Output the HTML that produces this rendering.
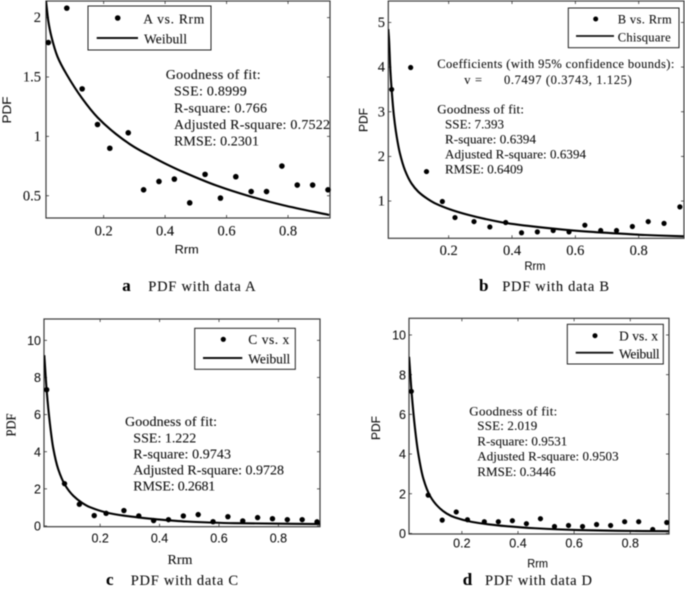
<!DOCTYPE html>
<html>
<head>
<meta charset="utf-8">
<title>PDF fits for data A, B, C and D</title>
<style>
html,body{margin:0;padding:0;background:#fff;width:685px;height:591px;overflow:hidden}
svg{display:block;filter:blur(0.4px)}
text{fill:#111;font-family:"Liberation Serif",serif;font-size:13.5px;stroke:#111;stroke-width:0.1px}
.stat{font-size:14px}
.leg{font-size:13.5px}
.sans{font-family:"Liberation Sans",sans-serif;font-size:12px}
.cap{font-size:14.5px}
.capb{font-size:17px;font-weight:bold;fill:#000}
</style>
</head>
<body>
<svg id="figure" width="685" height="591" viewBox="0 0 685 591" xmlns="http://www.w3.org/2000/svg">
<g id="panel-a"></g>
<g id="panel-b"></g>
<g id="panel-c"></g>
<g id="panel-d"></g>

<g>
<rect x="88" y="6" width="123" height="44" fill="#fff" stroke="#222" stroke-width="1"/>
<circle cx="117.7" cy="18" r="2.8" fill="#000"/>
<line x1="96.7" x2="138" y1="38" y2="38" stroke="#111" stroke-width="2"/>
<text class="leg" x="143.3" y="23.5" textLength="61" lengthAdjust="spacing">A vs. Rrm</text>
<text class="leg" x="144" y="43.5" textLength="43" lengthAdjust="spacing">Weibull</text>
</g>
<g>
<text class="stat" x="165.7" y="79" textLength="95" lengthAdjust="spacing">Goodness of fit:</text>
<text class="stat" x="174" y="95.7" textLength="72.7" lengthAdjust="spacing">SSE: 0.8999</text>
<text class="stat" x="174" y="112.4" textLength="93" lengthAdjust="spacing">R-square: 0.766</text>
<text class="stat" x="174" y="129" textLength="156" lengthAdjust="spacing">Adjusted R-square: 0.7522</text>
<text class="stat" x="174" y="145.7" textLength="85" lengthAdjust="spacing">RMSE: 0.2301</text>
</g>
<text class="sans" x="174.7" y="253.3" textLength="24" lengthAdjust="spacingAndGlyphs">Rrm</text>
<text class="sans" transform="translate(11,123.5) rotate(-90)" textLength="27" lengthAdjust="spacingAndGlyphs">PDF</text>
<text class="capb" x="122.3" y="291">a</text>
<text class="cap" x="148.3" y="291" textLength="107.3" lengthAdjust="spacing">PDF with data A</text>

<g>
<rect x="568.3" y="8" width="110.7" height="39.7" fill="#fff" stroke="#222" stroke-width="1"/>
<circle cx="595.7" cy="19" r="2.5" fill="#000"/>
<line x1="576" x2="614" y1="36" y2="36" stroke="#111" stroke-width="1.8"/>
<text class="leg" x="617.7" y="23.5" textLength="54" lengthAdjust="spacing" style="font-size:12.5px">B vs. Rrm</text>
<text class="leg" x="617.7" y="41.3" textLength="53" lengthAdjust="spacing" style="font-size:12.5px">Chisquare</text>
</g>
<g>
<text class="stat" x="437.3" y="68" textLength="237" lengthAdjust="spacing" style="font-size:12.5px">Coefficients (with 95% confidence bounds):</text>
<text class="stat" x="464.3" y="84" textLength="17.7" lengthAdjust="spacing" style="font-size:12.5px">v =</text>
<text class="stat" x="504" y="84" textLength="127.7" lengthAdjust="spacing" style="font-size:12.5px">0.7497 (0.3743, 1.125)</text>
<text class="stat" x="437.3" y="113.3" textLength="86.7" lengthAdjust="spacing" style="font-size:13px">Goodness of fit:</text>
<text class="stat" x="445" y="128.3" textLength="59" lengthAdjust="spacing" style="font-size:13px">SSE: 7.393</text>
<text class="stat" x="445" y="143.3" textLength="91" lengthAdjust="spacing" style="font-size:13px">R-square: 0.6394</text>
<text class="stat" x="445" y="158.3" textLength="141" lengthAdjust="spacing" style="font-size:13px">Adjusted R-square: 0.6394</text>
<text class="stat" x="445" y="173.3" textLength="78" lengthAdjust="spacing" style="font-size:13px">RMSE: 0.6409</text>
</g>
<text class="sans" x="524.5" y="270" textLength="21" lengthAdjust="spacingAndGlyphs">Rrm</text>
<text class="sans" transform="translate(367.7,132) rotate(-90)" textLength="24" lengthAdjust="spacingAndGlyphs">PDF</text>
<text class="capb" x="479" y="291">b</text>
<text class="cap" x="502.3" y="291" textLength="106.7" lengthAdjust="spacing">PDF with data B</text>

<g>
<rect x="194.7" y="328.3" width="100.6" height="41" fill="#fff" stroke="#222" stroke-width="1"/>
<circle cx="223.3" cy="339.3" r="2.6" fill="#000"/>
<line x1="203" x2="242.3" y1="358" y2="358" stroke="#111" stroke-width="1.9"/>
<text class="leg" x="248.3" y="344" textLength="41" lengthAdjust="spacing">C vs. x</text>
<text class="leg" x="248.3" y="363.3" textLength="42" lengthAdjust="spacing">Weibull</text>
</g>
<g>
<text class="stat" x="125" y="426" textLength="92" lengthAdjust="spacing">Goodness of fit:</text>
<text class="stat" x="133.3" y="442.3" textLength="63" lengthAdjust="spacing">SSE: 1.222</text>
<text class="stat" x="133.3" y="458.3" textLength="97.7" lengthAdjust="spacing">R-square: 0.9743</text>
<text class="stat" x="133.3" y="474.3" textLength="150.7" lengthAdjust="spacing">Adjusted R-square: 0.9728</text>
<text class="stat" x="133.3" y="490.7" textLength="82" lengthAdjust="spacing">RMSE: 0.2681</text>
</g>
<text x="167.5" y="564" textLength="25" lengthAdjust="spacingAndGlyphs">Rrm</text>
<text transform="translate(15.3,436.5) rotate(-90)" textLength="23" lengthAdjust="spacingAndGlyphs">PDF</text>
<text class="capb" x="106" y="585">c</text>
<text class="cap" x="130.7" y="585" textLength="107.3" lengthAdjust="spacing">PDF with data C</text>

<g>
<rect x="567.3" y="324.3" width="96" height="39.7" fill="#fff" stroke="#222" stroke-width="1"/>
<circle cx="595" cy="335.7" r="2.5" fill="#000"/>
<line x1="575.7" x2="613.3" y1="352.7" y2="352.7" stroke="#111" stroke-width="1.8"/>
<text class="leg" x="619" y="340.7" textLength="39" lengthAdjust="spacing">D vs. x</text>
<text class="leg" x="619" y="358.7" textLength="40.7" lengthAdjust="spacing">Weibull</text>
</g>
<g>
<text class="stat" x="469.3" y="415.3" textLength="88" lengthAdjust="spacing" style="font-size:13px">Goodness of fit:</text>
<text class="stat" x="477.3" y="430" textLength="60" lengthAdjust="spacing" style="font-size:13px">SSE: 2.019</text>
<text class="stat" x="477.3" y="445.3" textLength="90" lengthAdjust="spacing" style="font-size:13px">R-square: 0.9531</text>
<text class="stat" x="477.3" y="460.7" textLength="141.3" lengthAdjust="spacing" style="font-size:13px">Adjusted R-square: 0.9503</text>
<text class="stat" x="477.3" y="476" textLength="78.3" lengthAdjust="spacing" style="font-size:13px">RMSE: 0.3446</text>
</g>
<text class="sans" x="527.3" y="567.3" textLength="20.7" lengthAdjust="spacingAndGlyphs">Rrm</text>
<text class="sans" transform="translate(380,440) rotate(-90)" textLength="24" lengthAdjust="spacingAndGlyphs">PDF</text>
<text class="capb" x="462.7" y="585">d</text>
<text class="cap" x="485" y="585" textLength="107" lengthAdjust="spacing">PDF with data D</text>
</svg>

<script>
const rrmValues = [0.02,0.08,0.13,0.18,0.22,0.28,0.33,0.38,0.43,0.48,0.53,0.58,0.63,0.68,0.73,0.78,0.83,0.88,0.93];
const aValues = [1.79,2.08,1.40,1.10,0.90,1.03,0.55,0.62,0.64,0.44,0.68,0.48,0.66,0.535,0.535,0.75,0.59,0.59,0.55];
const bValues = [3.5,3.99,1.66,0.99,0.63,0.54,0.42,0.52,0.29,0.31,0.34,0.31,0.46,0.34,0.34,0.43,0.54,0.5,0.87];
const cValues = [7.34,2.28,1.17,0.56,0.68,0.83,0.54,0.29,0.34,0.54,0.61,0.23,0.5,0.27,0.45,0.39,0.34,0.34,0.22];
const dValues = [7.16,1.93,0.67,1.08,0.69,0.59,0.59,0.64,0.49,0.74,0.35,0.4,0.35,0.45,0.4,0.59,0.59,0.2,0.55];

const aFitX = [0.0124,0.02,0.03,0.05,0.08,0.13,0.18,0.24,0.30,0.36,0.405,0.459,0.568,0.676,0.785,0.934];
const aFitY = [2.14,1.97,1.84,1.67,1.52,1.32,1.16,1.02,0.91,0.825,0.765,0.70,0.585,0.495,0.42,0.338];
const bFitX = [0.0094,0.0116,0.0157,0.02,0.0274,0.036,0.046,0.062,0.083,0.104,0.131,0.157,0.21,0.262,0.315,0.38,0.505,0.61,0.716,0.821,0.942];
const bFitY = [4.85,4.63,3.96,3.49,2.89,2.44,2.07,1.69,1.39,1.21,1.06,0.95,0.80,0.69,0.6,0.51,0.40,0.33,0.28,0.24,0.21];
const cFitX = [0.012,0.02,0.031,0.042,0.059,0.082,0.11,0.138,0.166,0.222,0.278,0.329,0.39,0.49,0.65,0.94];
const cFitY = [9.2,7.3,5.5,4.2,3.05,2.2,1.62,1.26,1.01,0.72,0.56,0.46,0.36,0.24,0.15,0.1];
const dFitX = [0.012,0.021,0.033,0.045,0.063,0.087,0.116,0.146,0.176,0.235,0.294,0.354,0.461,0.615,0.757,0.938];
const dFitY = [8.9,7.1,5.3,4.0,2.75,1.88,1.34,1.0,0.8,0.58,0.46,0.37,0.26,0.17,0.13,0.11];

const xTicks = [0.2,0.4,0.6,0.8];
const xTickLabels = ['0.2','0.4','0.6','0.8'];
const aYTicks = [0.5,1,1.5,2];
const aYTickLabels = ['0.5','1','1.5','2'];
const bYTicks = [1,2,3,4,5];
const bYTickLabels = ['1','2','3','4','5'];
const cdYTicks = [0,2,4,6,8,10];
const cdYTickLabels = ['0','2','4','6','8','10'];

const NS = 'http://www.w3.org/2000/svg';
function make(tag, attrs, parent) {
  const el = document.createElementNS(NS, tag);
  for (const k in attrs) el.setAttribute(k, attrs[k]);
  parent.appendChild(el);
  return el;
}
function smoothPath(px, py) {
  const n = px.length, sec = [], m = [];
  for (let i = 0; i < n - 1; i++) sec.push((py[i + 1] - py[i]) / (px[i + 1] - px[i]));
  m[0] = sec[0];
  m[n - 1] = sec[n - 2];
  for (let i = 1; i < n - 1; i++) {
    m[i] = sec[i - 1] * sec[i] <= 0 ? 0 : 2 * sec[i - 1] * sec[i] / (sec[i - 1] + sec[i]);
  }
  let d = 'M' + px[0].toFixed(2) + ' ' + py[0].toFixed(2);
  for (let i = 0; i < n - 1; i++) {
    const h = (px[i + 1] - px[i]) / 3;
    d += 'C' + (px[i] + h).toFixed(2) + ' ' + (py[i] + m[i] * h).toFixed(2) + ' ' +
         (px[i + 1] - h).toFixed(2) + ' ' + (py[i + 1] - m[i + 1] * h).toFixed(2) + ' ' +
         px[i + 1].toFixed(2) + ' ' + py[i + 1].toFixed(2);
  }
  return d;
}
function drawPanel(c) {
  const g = document.getElementById(c.id);
  const sx = v => c.left + (v - c.xMin) / (c.xMax - c.xMin) * (c.right - c.left);
  const sy = v => c.bottom - (v - c.yMin) / (c.yMax - c.yMin) * (c.bottom - c.top);
  const clipId = c.id + '-clip';
  const defs = make('defs', {}, g);
  const cp = make('clipPath', {id: clipId}, defs);
  make('rect', {x: c.left, y: c.top, width: c.right - c.left, height: c.bottom - c.top}, cp);

  c.xTicks.forEach((v, i) => {
    const x = sx(v);
    const t1 = make('line', {x1: x, x2: x, y1: c.bottom, y2: c.bottom - 3, stroke: '#333', 'stroke-width': 0.8}, g);
    
    
    const t2 = make('line', {x1: x, x2: x, y1: c.top, y2: c.top + 3, stroke: '#333', 'stroke-width': 0.8}, g);
    
    
    const lab = make('text', {x: x, y: c.xLabelY, 'text-anchor': 'middle', style: c.tickStyle}, g);
    
    
    lab.textContent = xTickLabels[i];
  });
  c.yTicks.forEach((v, i) => {
    const y = sy(v);
    const t1 = make('line', {x1: c.left, x2: c.left + 3, y1: y, y2: y, stroke: '#333', 'stroke-width': 0.8}, g);
    
    
    const t2 = make('line', {x1: c.right, x2: c.right - 3, y1: y, y2: y, stroke: '#333', 'stroke-width': 0.8}, g);
    
    
    const lab = make('text', {x: c.yLabelX, y: y + 4.6, 'text-anchor': 'end', style: c.tickStyle}, g);
    
    
    lab.textContent = c.yLabels[i];
  });

  const frame = make('rect', {x: c.left, y: c.top, width: c.right - c.left, height: c.bottom - c.top, fill: 'none', stroke: '#3a3a3a', 'stroke-width': 1.2}, g);
  
  

  const fit = make('path', {d: smoothPath(c.fitX.map(sx), c.fitY.map(sy)), fill: 'none', stroke: '#000', 'stroke-width': 2.1, 'clip-path': 'url(#' + clipId + ')'}, g);
  
  

  rrmValues.forEach((x, i) => {
    const p = make('circle', {cx: sx(x), cy: sy(c.values[i]), r: c.r, fill: '#000'}, g);
    
    
  });
}
const serifTick = 'font-family:"Liberation Serif",serif;font-size:14.5px';
const sansTick = 'font-family:"Liberation Sans",sans-serif;font-size:12.5px';
drawPanel({id:'panel-a', left:46, right:330, top:1, bottom:218, xMin:0.0124, xMax:0.9365, yMin:0.3125, yMax:2.14,
  xTicks:xTicks, yTicks:aYTicks, yLabels:aYTickLabels, values:aValues, fitX:aFitX, fitY:aFitY,
  xLabelY:235.5, yLabelX:41, tickStyle:serifTick, r:2.8});
drawPanel({id:'panel-b', left:388.3, right:684, top:1, bottom:238.3, xMin:0.0094, xMax:0.943, yMin:0.166, yMax:5.48,
  xTicks:xTicks, yTicks:bYTicks, yLabels:bYTickLabels, values:bValues, fitX:bFitX, fitY:bFitY,
  xLabelY:255, yLabelX:385, tickStyle:serifTick, r:2.6});
drawPanel({id:'panel-c', left:44, right:320, top:319, bottom:526.7, xMin:0.011, xMax:0.94, yMin:-0.04, yMax:11.15,
  xTicks:xTicks, yTicks:cdYTicks, yLabels:cdYTickLabels, values:cValues, fitX:cFitX, fitY:cFitY,
  xLabelY:542.7, yLabelX:41, tickStyle:sansTick, r:2.7});
drawPanel({id:'panel-d', left:409, right:669, top:318.3, bottom:534, xMin:0.0117, xMax:0.938, yMin:-0.03, yMax:10.84,
  xTicks:xTicks, yTicks:cdYTicks, yLabels:cdYTickLabels, values:dValues, fitX:dFitX, fitY:dFitY,
  xLabelY:547.3, yLabelX:406, tickStyle:sansTick, r:2.6});
</script>
</body>
</html>
